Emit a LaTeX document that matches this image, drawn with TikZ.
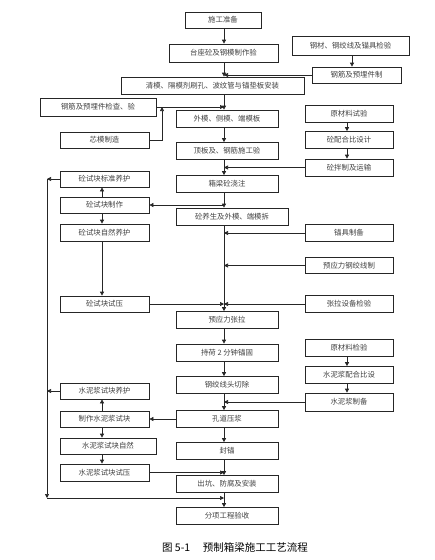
\documentclass[tikz,border=0pt]{standalone}
\usepackage{fontspec}
\newfontfamily\cjk{Noto Sans CJK SC}
\usetikzlibrary{arrows.meta}
\begin{document}
\begin{tikzpicture}[x=1pt,y=-1pt,
  box/.style={draw=black!85,line width=0.7pt,inner sep=0pt,minimum height=17pt,
    font=\cjk\fontsize{7.4}{8}\selectfont,text=black!75},
  cw/.style={box,minimum width=102pt},
  rw/.style={box,minimum width=88pt},
  lw/.style={box,minimum width=89pt},
  ar/.style={line width=0.7pt,draw=black!85,-{Triangle[length=4pt,width=4pt]}},
  ln/.style={line width=0.7pt,draw=black!85}]
\useasboundingbox (0,0) rectangle (435,560);
% spine coordinates
\coordinate (sp) at (224,0);
\coordinate (rxa) at (352,0);
\coordinate (rx) at (347,0);
\coordinate (lx) at (102,0);
\coordinate (lp) at (47,0);
\coordinate (kx) at (162,0);
% centre column
\node[box,minimum width=76pt,minimum height=16pt] (c1) at (223,20) {施工准备};
\node[box,minimum width=109pt,minimum height=18pt] (c2) at (223.5,53) {台座砼及钢模制作验};
\node[box,minimum width=183pt] (c3) at (212.5,85.5) {清模、隔模剂刷孔、波纹管与锚垫板安装};
\node[cw] (c4) at (227,118.5) {外模、侧模、端模板};
\node[cw] (c5) at (227,151) {顶板及、钢筋施工验};
\node[cw] (c6) at (227,184) {箱梁砼浇注};
\node[box,minimum width=112pt] (c7) at (232,216.5) {砼养生及外模、端模拆};
\node[cw] (c8) at (227,320) {预应力张拉};
\node[cw] (c9) at (227,352.5) {持荷 2 分钟锚固};
\node[cw] (c10) at (227,385) {钢绞线头切除};
\node[cw] (c11) at (227,419) {孔道压浆};
\node[cw] (c12) at (227,451) {封锚};
\node[cw] (c13) at (227,484) {出坑、防腐及安装};
\node[cw] (c14) at (227,516) {分项工程验收};
% right column
\node[box,minimum width=117pt,minimum height=19pt] (r1) at (350.5,45.5) {钢材、钢绞线及锚具检验};
\node[box,minimum width=89pt,minimum height=16pt] (r2) at (356.5,75) {钢筋及预埋件制};
\node[rw] (r3) at (349,113.5) {原材料试验};
\node[rw] (r4) at (349,140) {砼配合比设计};
\node[rw] (r5) at (349,167.5) {砼拌制及运输};
\node[rw] (r6) at (349,233) {锚具制备};
\node[rw,minimum height=16pt] (r7) at (349,265.5) {预应力钢绞线制};
\node[rw] (r8) at (349,304) {张拉设备检验};
\node[rw] (r9) at (349,347.5) {原材料检验};
\node[rw] (r10) at (349,375) {水泥浆配合比设};
\node[rw,minimum height=18pt] (r11) at (349,402) {水泥浆制备};
% left column
\node[box,minimum width=116pt,minimum height=18pt] (l1) at (98,107) {钢筋及预埋件检查、验};
\node[lw,minimum height=16pt] (l2) at (104.5,140) {芯模制造};
\node[lw,minimum height=16pt] (l3) at (104.5,179) {砼试块标准养护};
\node[lw,minimum height=16pt] (l4) at (104.5,205) {砼试块制作};
\node[lw] (l5) at (104.5,232.5) {砼试块自然养护};
\node[lw,minimum height=16pt] (l6) at (104.5,304) {砼试块试压};
\node[lw,minimum height=16pt] (l7) at (104.5,391) {水泥浆试块养护};
\node[lw,minimum height=16pt] (l8) at (104.5,419) {制作水泥浆试块};
\node[box,minimum width=96pt,minimum height=16pt] (l9) at (108,446) {水泥浆试块自然};
\node[lw] (l10) at (104.5,472.5) {水泥浆试块试压};
% caption
\node[font=\cjk\fontsize{10.5}{12}\selectfont,text=black,inner sep=0pt] (cap) at (235,547) {图 5-1\hspace{1.2em}预制箱梁施工工艺流程};
% spine arrows
\draw[ar] (c1.south -| sp) -- (c2.north -| sp);
\draw[ar] (c2.south -| sp) -- (c3.north -| sp);
\draw[ar] (c3.south -| sp) -- (c4.north -| sp);
\draw[ar] (c4.south -| sp) -- (c5.north -| sp);
\draw[ar] (c5.south -| sp) -- (c6.north -| sp);
\draw[ar] (c6.south -| sp) -- (c7.north -| sp);
\draw[ar] (c7.south -| sp) -- (c8.north -| sp);
\draw[ar] (c8.south -| sp) -- (c9.north -| sp);
\draw[ar] (c9.south -| sp) -- (c10.north -| sp);
\draw[ar] (c10.south -| sp) -- (c11.north -| sp);
\draw[ar] (c11.south -| sp) -- (c12.north -| sp);
\draw[ar] (c12.south -| sp) -- (c13.north -| sp);
\draw[ar] (c13.south -| sp) -- (c14.north -| sp);
% right feeds
\draw[ar] (r1.south -| rxa) -- (r2.north -| rxa);
\draw[ar] (r2.west) -- (r2.west -| sp);
\draw[ar] (r3.south -| rx) -- (r4.north -| rx);
\draw[ar] (r4.south -| rx) -- (r5.north -| rx);
\draw[ar] (r5.west) -- (r5.west -| sp);
\draw[ar] (r6.west) -- (r6.west -| sp);
\draw[ar] (r7.west) -- (r7.west -| sp);
\draw[ar] (r8.west) -- (r8.west -| sp);
\draw[ar] (r9.south -| rx) -- (r10.north -| rx);
\draw[ar] (r10.south -| rx) -- (r11.north -| rx);
\draw[ar] (r11.west) -- (r11.west -| sp);
% left feeds
\draw[ar] (l1.east) -- (l1.east -| sp);
\draw[ar] (l2.east) -- (l2.east -| kx) -- (l1.east -| kx);
\draw[ar] (l4.east -| sp) -- (l4.east);
\draw[ar] (l4.north -| lx) -- (l3.south -| lx);
\draw[ar] (l4.south -| lx) -- (l5.north -| lx);
\draw[ar] (l5.south -| lx) -- (l6.north -| lx);
\draw[ar] (l6.east) -- (l6.east -| sp);
\draw[ar] (c11.west) -- (l8.east);
\draw[ar] (l8.north -| lx) -- (l7.south -| lx);
\draw[ar] (l8.south -| lx) -- (l9.north -| lx);
\draw[ar] (l9.south -| lx) -- (l10.north -| lx);
\draw[ar] (l10.east) -- (l10.east -| sp);
% loop
\coordinate (lb) at (47,498);
\draw[ar] (l3.west) -- (l3.west -| lp);
\draw[ar] (l7.west) -- (l7.west -| lp);
\draw[ar] (l3.west -| lp) -- (lb);
\draw[ar] (lb) -- (lb -| sp);
\end{tikzpicture}
\end{document}
